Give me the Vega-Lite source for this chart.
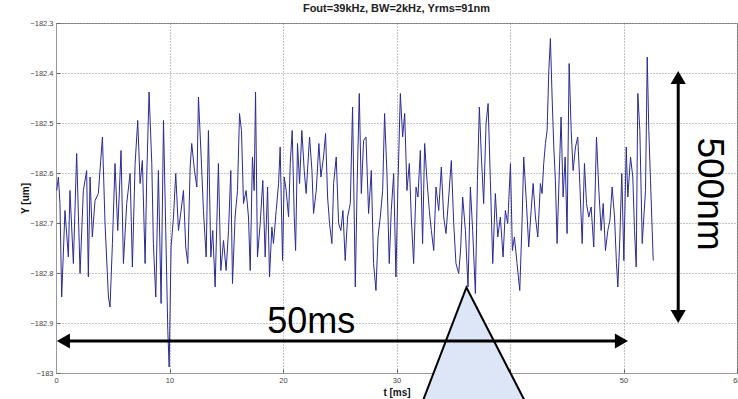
{
  "$schema": "https://vega.github.io/schema/vega-lite/v6.json",
  "width": 681,
  "height": 350,
  "autosize": {"type": "none"},
  "padding": {"left": 56, "top": 23, "right": 1, "bottom": 26},
  "background": "white",
  "config": {
    "font": "Liberation Sans",
    "view": {"stroke": "#999", "strokeWidth": 1},
    "axis": {"domainColor": "#999", "tickColor": "#666", "labelColor": "#444", "labelFontSize": 7.5, "labelFont": "Liberation Sans", "titleFont": "Liberation Sans", "titleFontSize": 10, "titleFontWeight": "bold", "titleColor": "#111", "gridColor": "#555", "gridDash": [1, 2], "gridOpacity": 0.7, "gridWidth": 1}
  },
  "title": {"text": "Fout=39kHz, BW=2kHz, Yrms=91nm", "fontSize": 11, "fontWeight": "bold", "offset": 5, "anchor": "middle", "font": "Liberation Sans", "color": "#222"},
  "datasets": {
    "signal": [
      {"t":0.06,"v":-182.635},{"t":0.21,"v":-182.608},{"t":0.35,"v":-182.661},{"t":0.5,"v":-182.848},{"t":0.79,"v":-182.675},{"t":1.09,"v":-182.768},{"t":1.23,"v":-182.635},{"t":1.53,"v":-182.781},{"t":1.82,"v":-182.561},{"t":2.12,"v":-182.801},{"t":2.41,"v":-182.635},{"t":2.7,"v":-182.595},{"t":2.85,"v":-182.808},{"t":3.0,"v":-182.608},{"t":3.2,"v":-182.728},{"t":3.44,"v":-182.655},{"t":3.73,"v":-182.641},{"t":4.09,"v":-182.528},{"t":4.32,"v":-182.701},{"t":4.62,"v":-182.848},{"t":4.76,"v":-182.868},{"t":4.97,"v":-182.741},{"t":5.2,"v":-182.581},{"t":5.44,"v":-182.715},{"t":5.73,"v":-182.555},{"t":5.94,"v":-182.781},{"t":6.23,"v":-182.661},{"t":6.53,"v":-182.601},{"t":6.73,"v":-182.788},{"t":6.97,"v":-182.581},{"t":7.2,"v":-182.495},{"t":7.41,"v":-182.621},{"t":7.61,"v":-182.575},{"t":7.85,"v":-182.781},{"t":8.0,"v":-182.601},{"t":8.2,"v":-182.438},{"t":8.44,"v":-182.581},{"t":8.58,"v":-182.741},{"t":8.79,"v":-182.848},{"t":9.02,"v":-182.595},{"t":9.26,"v":-182.861},{"t":9.47,"v":-182.495},{"t":9.67,"v":-182.715},{"t":9.85,"v":-182.915},{"t":9.97,"v":-182.988},{"t":10.14,"v":-182.748},{"t":10.35,"v":-182.688},{"t":10.55,"v":-182.601},{"t":10.79,"v":-182.715},{"t":11.02,"v":-182.675},{"t":11.23,"v":-182.635},{"t":11.43,"v":-182.748},{"t":11.61,"v":-182.781},{"t":11.82,"v":-182.588},{"t":11.96,"v":-182.541},{"t":12.2,"v":-182.595},{"t":12.41,"v":-182.628},{"t":12.55,"v":-182.448},{"t":12.79,"v":-182.568},{"t":12.99,"v":-182.675},
      {"t":13.23,"v":-182.768},{"t":13.43,"v":-182.515},{"t":13.64,"v":-182.768},{"t":13.81,"v":-182.715},{"t":14.02,"v":-182.828},{"t":14.31,"v":-182.581},{"t":14.52,"v":-182.795},{"t":14.76,"v":-182.735},{"t":14.99,"v":-182.795},{"t":15.2,"v":-182.715},{"t":15.4,"v":-182.595},{"t":15.55,"v":-182.821},{"t":15.78,"v":-182.688},{"t":15.99,"v":-182.635},{"t":16.17,"v":-182.481},{"t":16.34,"v":-182.515},{"t":16.52,"v":-182.661},{"t":16.75,"v":-182.635},{"t":16.96,"v":-182.688},{"t":17.11,"v":-182.795},{"t":17.31,"v":-182.568},{"t":17.46,"v":-182.635},{"t":17.58,"v":-182.438},{"t":17.75,"v":-182.768},{"t":17.99,"v":-182.701},{"t":18.22,"v":-182.615},{"t":18.43,"v":-182.768},{"t":18.64,"v":-182.628},{"t":18.81,"v":-182.808},{"t":19.02,"v":-182.708},{"t":19.16,"v":-182.741},{"t":19.4,"v":-182.675},{"t":19.61,"v":-182.621},{"t":19.75,"v":-182.548},{"t":19.96,"v":-182.775},{"t":20.11,"v":-182.608},{"t":20.28,"v":-182.635},{"t":20.49,"v":-182.688},{"t":20.64,"v":-182.581},{"t":20.81,"v":-182.515},{"t":20.99,"v":-182.688},{"t":21.11,"v":-182.755},{"t":21.28,"v":-182.541},{"t":21.46,"v":-182.621},{"t":21.66,"v":-182.515},{"t":21.87,"v":-182.595},{"t":22.04,"v":-182.641},{"t":22.34,"v":-182.528},{"t":22.55,"v":-182.595},{"t":22.69,"v":-182.681},{"t":22.93,"v":-182.635},{"t":23.16,"v":-182.541},{"t":23.34,"v":-182.608},{"t":23.57,"v":-182.568},{"t":23.75,"v":-182.521},{"t":23.93,"v":-182.648},{"t":24.1,"v":-182.701},{"t":24.31,"v":-182.741},{"t":24.46,"v":-182.621},{"t":24.69,"v":-182.568},{"t":24.9,"v":-182.701},{"t":25.1,"v":-182.715},{"t":25.28,"v":-182.675},{"t":25.48,"v":-182.775},{"t":25.69,"v":-182.688},
      {"t":25.93,"v":-182.661},{"t":26.13,"v":-182.468},{"t":26.37,"v":-182.828},{"t":26.54,"v":-182.615},{"t":26.72,"v":-182.441},{"t":26.9,"v":-182.641},{"t":27.1,"v":-182.535},{"t":27.31,"v":-182.528},{"t":27.54,"v":-182.681},{"t":27.78,"v":-182.595},{"t":27.98,"v":-182.781},{"t":28.19,"v":-182.835},{"t":28.37,"v":-182.728},{"t":28.57,"v":-182.688},{"t":28.78,"v":-182.635},{"t":28.95,"v":-182.481},{"t":29.16,"v":-182.601},{"t":29.36,"v":-182.781},{"t":29.54,"v":-182.675},{"t":29.75,"v":-182.601},{"t":29.95,"v":-182.808},{"t":30.13,"v":-182.621},{"t":30.34,"v":-182.441},{"t":30.54,"v":-182.528},{"t":30.72,"v":-182.481},{"t":30.92,"v":-182.635},{"t":31.13,"v":-182.581},{"t":31.3,"v":-182.688},{"t":31.51,"v":-182.781},{"t":31.72,"v":-182.628},{"t":31.89,"v":-182.648},{"t":32.1,"v":-182.555},{"t":32.3,"v":-182.741},{"t":32.48,"v":-182.541},{"t":32.69,"v":-182.615},{"t":32.89,"v":-182.675},{"t":33.07,"v":-182.715},{"t":33.28,"v":-182.755},{"t":33.48,"v":-182.628},{"t":33.72,"v":-182.675},{"t":33.95,"v":-182.588},{"t":34.16,"v":-182.688},{"t":34.36,"v":-182.721},{"t":34.6,"v":-182.648},{"t":34.83,"v":-182.575},{"t":35.04,"v":-182.701},{"t":35.24,"v":-182.781},{"t":35.48,"v":-182.801},{"t":35.66,"v":-182.748},{"t":35.83,"v":-182.648},{"t":36.07,"v":-182.715},{"t":36.3,"v":-182.828},{"t":36.51,"v":-182.628},{"t":36.71,"v":-182.715},{"t":36.95,"v":-182.841},{"t":37.13,"v":-182.615},{"t":37.3,"v":-182.468},{"t":37.48,"v":-182.568},{"t":37.68,"v":-182.661},{"t":37.89,"v":-182.501},{"t":38.07,"v":-182.461},{"t":38.27,"v":-182.615},{"t":38.48,"v":-182.781},
      {"t":38.71,"v":-182.641},{"t":38.92,"v":-182.728},{"t":39.15,"v":-182.688},{"t":39.39,"v":-182.768},{"t":39.59,"v":-182.675},{"t":39.8,"v":-182.701},{"t":40.04,"v":-182.581},{"t":40.21,"v":-182.755},{"t":40.39,"v":-182.728},{"t":40.62,"v":-182.781},{"t":40.86,"v":-182.835},{"t":41.06,"v":-182.701},{"t":41.21,"v":-182.568},{"t":41.45,"v":-182.661},{"t":41.65,"v":-182.748},{"t":41.86,"v":-182.675},{"t":42.04,"v":-182.621},{"t":42.24,"v":-182.688},{"t":42.45,"v":-182.728},{"t":42.68,"v":-182.621},{"t":42.83,"v":-182.641},{"t":42.97,"v":-182.581},{"t":43.12,"v":-182.541},{"t":43.27,"v":-182.515},{"t":43.42,"v":-182.395},{"t":43.56,"v":-182.331},{"t":43.71,"v":-182.448},{"t":43.86,"v":-182.548},{"t":44.0,"v":-182.615},{"t":44.15,"v":-182.741},{"t":44.33,"v":-182.608},{"t":44.5,"v":-182.488},{"t":44.68,"v":-182.648},{"t":44.86,"v":-182.568},{"t":45.03,"v":-182.721},{"t":45.21,"v":-182.381},{"t":45.39,"v":-182.515},{"t":45.56,"v":-182.595},{"t":45.77,"v":-182.548},{"t":45.97,"v":-182.528},{"t":46.15,"v":-182.621},{"t":46.36,"v":-182.741},{"t":46.56,"v":-182.581},{"t":46.74,"v":-182.661},{"t":46.94,"v":-182.688},{"t":47.15,"v":-182.668},{"t":47.38,"v":-182.748},{"t":47.62,"v":-182.528},{"t":47.83,"v":-182.635},{"t":48.03,"v":-182.715},{"t":48.21,"v":-182.661},{"t":48.41,"v":-182.755},{"t":48.62,"v":-182.715},{"t":48.8,"v":-182.695},{"t":49.0,"v":-182.628},{"t":49.21,"v":-182.688},{"t":49.38,"v":-182.781},{"t":49.5,"v":-182.828},{"t":49.68,"v":-182.728},{"t":49.85,"v":-182.601},{"t":50.03,"v":-182.775},{"t":50.24,"v":-182.548},{"t":50.38,"v":-182.648},{"t":50.62,"v":-182.568},{"t":50.82,"v":-182.608},{"t":50.97,"v":-182.715},{"t":51.12,"v":-182.788},{"t":51.26,"v":-182.441},{"t":51.44,"v":-182.515},{"t":51.65,"v":-182.741},{"t":51.79,"v":-182.688},{"t":51.94,"v":-182.635},{"t":52.09,"v":-182.368},{"t":52.23,"v":-182.515},{"t":52.38,"v":-182.615},{"t":52.53,"v":-182.715},{"t":52.62,"v":-182.775}
    ],
    "triangle": [
      {"t": 31.66, "v": -183.095, "v2": -183.095},
      {"t": 36.16, "v": -182.829, "v2": -183.095},
      {"t": 42.19, "v": -183.095, "v2": -183.095}
    ],
    "hspan": [{"t": 0.65, "t2": 49.82, "v": -182.936}],
    "vspan": [{"t": 54.82, "v": -182.409, "v2": -182.887}],
    "heads": [
      {"t": 0.65, "v": -182.936, "dir": "left"},
      {"t": 49.82, "v": -182.936, "dir": "right"},
      {"t": 54.82, "v": -182.409, "dir": "up"},
      {"t": 54.82, "v": -182.887, "dir": "down"}
    ],
    "hlabel": [{"t": 22.49, "v": -182.919, "label": "50ms"}],
    "vlabel": [{"t": 57.5, "v": -182.642, "label": "500nm"}]
  },
  "encoding": {
    "x": {"field": "t", "type": "quantitative", "title": "t [ms]",
      "scale": {"domain": [0, 60], "nice": false, "zero": false},
      "axis": {"values": [0, 10, 20, 30, 40, 50, 60], "grid": true, "tickSize": -4, "labelPadding": 7, "labelFlush": false, "titleY": 22, "titleBaseline": "alphabetic"}},
    "y": {"field": "v", "type": "quantitative", "title": "Y [um]",
      "scale": {"domain": [-183, -182.3], "nice": false, "zero": false},
      "axis": {"values": [-183, -182.9, -182.8, -182.7, -182.6, -182.5, -182.4, -182.3], "format": ".4~g", "grid": true, "tickSize": -4, "labelPadding": 7, "titleX": -26, "titleY": 175}}
  },
  "layer": [
    {"data": {"name": "signal"}, "mark": {"type": "line", "color": "#2a2a96", "strokeWidth": 1}},
    {"data": {"name": "triangle"}, "mark": {"type": "area", "fill": "#dce6f7", "stroke": "black", "strokeWidth": 2, "clip": false},
      "encoding": {"y2": {"field": "v2"}}},
    {"data": {"name": "hspan"}, "mark": {"type": "rule", "color": "black", "strokeWidth": 3},
      "encoding": {"x2": {"field": "t2"}}},
    {"data": {"name": "vspan"}, "mark": {"type": "rule", "color": "black", "strokeWidth": 3},
      "encoding": {"y2": {"field": "v2"}}},
    {"data": {"name": "heads"}, "mark": {"type": "point", "filled": true, "color": "black", "size": 230, "opacity": 1},
      "encoding": {"shape": {"field": "dir", "type": "nominal", "legend": null,
        "scale": {"domain": ["left", "right", "up", "down"], "range": ["triangle-left", "triangle-right", "triangle-up", "triangle-down"]}}}},
    {"data": {"name": "hlabel"}, "mark": {"type": "text", "fontSize": 36, "font": "Liberation Sans", "color": "black", "align": "center", "baseline": "alphabetic"},
      "encoding": {"text": {"field": "label"}}},
    {"data": {"name": "vlabel"}, "mark": {"type": "text", "fontSize": 37, "font": "Liberation Sans", "color": "black", "align": "center", "baseline": "middle", "angle": 90},
      "encoding": {"text": {"field": "label"}}}
  ]
}
